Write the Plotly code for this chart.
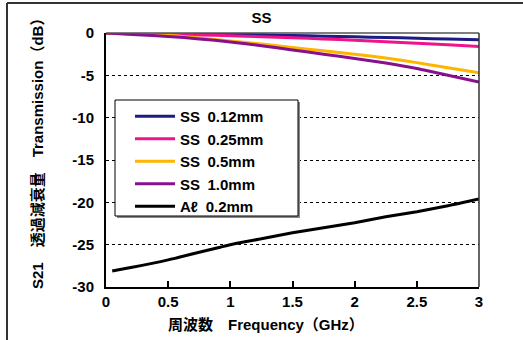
import plotly.graph_objects as go

# ---- data ----
freq_ss = [0, 0.25, 0.5, 0.75, 1.0, 1.25, 1.5, 1.75, 2.0, 2.25, 2.5, 2.75, 3.0]
ss_012 = [0, -0.02, -0.05, -0.1, -0.15, -0.22, -0.3, -0.37, -0.45, -0.53, -0.62, -0.71, -0.8]
ss_025 = [0, -0.07, -0.15, -0.23, -0.32, -0.43, -0.55, -0.7, -0.85, -1.02, -1.2, -1.4, -1.6]
ss_05 = [0, -0.1, -0.28, -0.6, -0.95, -1.3, -1.72, -2.1, -2.5, -2.95, -3.5, -4.1, -4.7]
ss_10 = [0, -0.2, -0.4, -0.7, -1.05, -1.5, -2.0, -2.5, -3.0, -3.55, -4.2, -5.0, -5.8]
freq_al = [0.05, 0.2, 0.5, 0.75, 1.0, 1.25, 1.5, 1.75, 2.0, 2.25, 2.5, 2.75, 3.0]
al_02 = [-28.1, -27.7, -26.8, -25.9, -25.0, -24.3, -23.6, -23.0, -22.4, -21.7, -21.1, -20.4, -19.6]

series_names = ["SS\u20020.12mm", "SS\u20020.25mm", "SS\u20020.5mm",
                "SS\u20021.0mm", "A\u2113\u20020.2mm"]
colors = ["#1c1c84", "#f0148c", "#ffb400", "#88108c", "#000000"]

y_ticks = [0, -5, -10, -15, -20, -25, -30]
y_ticktext = ["0", "-5", "-10", "-15", "-20", "-25", "-30"]
x_ticks = [0, 0.5, 1, 1.5, 2, 2.5, 3]
x_ticktext = ["0", "0.5", "1", "1.5", "2", "2.5", "3"]

FONT = "Liberation Sans, Arial, Noto Sans CJK JP, sans-serif"

fig = go.Figure()
xs = [freq_ss, freq_ss, freq_ss, freq_ss, freq_al]
ys = [ss_012, ss_025, ss_05, ss_10, al_02]
for name, c, x, y in zip(series_names, colors, xs, ys):
    fig.add_trace(go.Scatter(x=x, y=y, mode="lines", name=name,
                             line=dict(color=c, width=3, shape="spline", smoothing=0.6)))

W, H = 523, 340
L, R, T, B = 106, 44, 33, 53
pw, ph = W - L - R, H - T - B

def px(xp):
    return (xp - L) / pw

def py(yp):
    return (H - B - yp) / ph

fig.update_layout(
    width=W, height=H,
    margin=dict(l=L, r=R, t=T, b=B, pad=0),
    paper_bgcolor="white", plot_bgcolor="white",
    font=dict(family=FONT, size=14, color="black"),
    showlegend=True,
    legend=dict(x=px(130), y=py(100), xanchor="left", yanchor="top",
                bgcolor="rgba(0,0,0,0)", borderwidth=0,
                font=dict(size=15, weight="bold"), tracegroupgap=0,
                itemwidth=40),
    title=dict(text="SS", x=px(292.5), xanchor="center", y=1 - 18 / H, yanchor="middle",
               font=dict(size=15, weight="bold")),
    xaxis=dict(range=[0, 3], tickvals=x_ticks, ticktext=x_ticktext,
               ticks="inside", ticklen=6, tickwidth=1.5, tickcolor="black",
               showline=True, linecolor="black", linewidth=2,
               showgrid=False, zeroline=False,
               tickfont=dict(size=15, weight="bold")),
    yaxis=dict(range=[-30, 0], tickvals=y_ticks, ticktext=y_ticktext,
               ticks="", showline=True, linecolor="black", linewidth=2,
               showgrid=True, gridcolor="black", gridwidth=1, griddash="dot",
               zeroline=False, ticklabelstandoff=7,
               tickfont=dict(size=15, weight="bold")),
)

shapes = [
    # top & right plot frame
    dict(type="line", xref="paper", yref="paper", x0=0, x1=1, y0=1, y1=1,
         line=dict(color="#555555", width=1.5)),
    dict(type="line", xref="paper", yref="paper", x0=1, x1=1, y0=0, y1=1,
         line=dict(color="#333333", width=1.5)),
    # outer frame lines
    dict(type="line", xref="paper", yref="paper", x0=px(7), x1=px(7), y0=py(3), y1=py(H),
         line=dict(color="#333333", width=2)),
    dict(type="line", xref="paper", yref="paper", x0=px(7), x1=px(W), y0=py(3), y1=py(3),
         line=dict(color="#333333", width=2)),
    # legend frame with shadow
    dict(type="rect", xref="paper", yref="paper", layer="above",
         x0=px(117), x1=px(300), y0=py(218), y1=py(102),
         fillcolor="#888888", line=dict(width=0)),
    dict(type="rect", xref="paper", yref="paper", layer="above",
         x0=px(115), x1=px(298), y0=py(216), y1=py(100),
         fillcolor="white", line=dict(color="black", width=1)),
]
fig.update_layout(shapes=shapes)

fig.add_annotation(text="S21\u3000透過減衰量\u3000Transmission\uff08dB\uff09",
                   xref="paper", yref="paper", x=px(37), y=py(150),
                   showarrow=False, textangle=-90, xanchor="center", yanchor="middle",
                   font=dict(size=15, weight="bold"))
fig.add_annotation(text="周波数\u3000Frequency\uff08GHz\uff09",
                   xref="paper", yref="paper", x=px(266), y=py(324),
                   showarrow=False, xanchor="center", yanchor="middle",
                   font=dict(size=15, weight="bold"))

fig.write_html("out.html", config={"displayModeBar": False},
               post_script="document.body.style.margin='0';")
